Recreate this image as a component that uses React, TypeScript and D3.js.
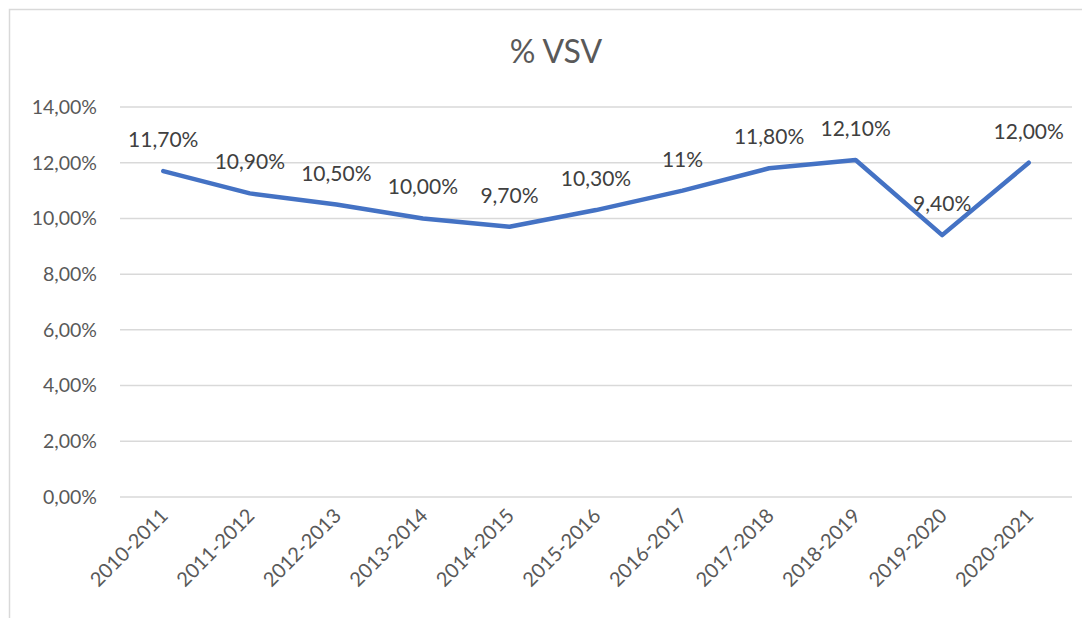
import React, { useEffect, useRef } from 'react';
import * as d3 from 'd3';

const categories = ['2010-2011', '2011-2012', '2012-2013', '2013-2014', '2014-2015', '2015-2016', '2016-2017', '2017-2018', '2018-2019', '2019-2020', '2020-2021'];
const values = [11.7, 10.9, 10.5, 10.0, 9.7, 10.3, 11.0, 11.8, 12.1, 9.4, 12.0];
const valueLabels = ['11,70%', '10,90%', '10,50%', '10,00%', '9,70%', '10,30%', '11%', '11,80%', '12,10%', '9,40%', '12,00%'];
const yTicks = [0, 2, 4, 6, 8, 10, 12, 14];

const font = 'Lato, "Open Sans", sans-serif';
const textColor = '#595959';

const App: React.FC = () => {
  const svgRef = useRef<SVGSVGElement>(null);

  useEffect(() => {
    if (!svgRef.current) return;
    const width = 1082;
    const height = 610;
    // plot area in svg coords (svg sits at 8,8 on the page)
    const left = 112, right = 1064, top = 99, bottom = 489;

    const svg = d3.select(svgRef.current).attr('width', width).attr('height', height);
    svg.selectAll('*').remove();

    svg.append('rect')
      .attr('x', 1.5).attr('y', 1.5)
      .attr('width', width + 20).attr('height', height + 20)
      .attr('fill', '#fff').attr('stroke', '#d9d9d9').attr('stroke-width', 1.5);

    const x = d3.scaleBand<string>().domain(categories).range([left, right]);
    const y = d3.scaleLinear().domain([0, 14]).range([bottom, top]);

    // title
    svg.append('text')
      .attr('x', (left + right) / 2 - 40).attr('y', 55)
      .attr('text-anchor', 'middle')
      .attr('font-family', font).attr('font-size', 32)
      .attr('fill', textColor)
      .text('% VSV');

    // gridlines
    svg.append('g').selectAll('line')
      .data(yTicks).enter().append('line')
      .attr('x1', left).attr('x2', right)
      .attr('y1', d => y(d)).attr('y2', d => y(d))
      .attr('stroke', '#d9d9d9').attr('stroke-width', 1.5);

    // y labels
    svg.append('g').selectAll('text')
      .data(yTicks).enter().append('text')
      .attr('x', 89).attr('y', d => y(d))
      .attr('dy', '0.35em')
      .attr('text-anchor', 'end')
      .attr('font-family', font).attr('font-size', 19.5)
      .attr('fill', textColor)
      .text(d => d.toFixed(2).replace('.', ',') + '%');

    // x labels
    svg.append('g').selectAll('text')
      .data(categories).enter().append('text')
      .attr('transform', d => `translate(${(x(d) ?? 0) + x.bandwidth() / 2 + 6},${bottom + 20}) rotate(-45)`)
      .attr('text-anchor', 'end')
      .attr('font-family', font).attr('font-size', 20)
      .attr('fill', textColor)
      .text(d => d);

    const cx = (i: number) => (x(categories[i]) ?? 0) + x.bandwidth() / 2;

    const line = d3.line<number>()
      .x((_, i) => cx(i))
      .y(d => y(d));

    svg.append('path')
      .datum(values)
      .attr('d', line)
      .attr('fill', 'none')
      .attr('stroke', '#4472C4')
      .attr('stroke-width', 4.5)
      .attr('stroke-linejoin', 'round')
      .attr('stroke-linecap', 'round');

    svg.append('g').selectAll('text')
      .data(values).enter().append('text')
      .attr('x', (_, i) => cx(i))
      .attr('y', d => y(d) - 24)
      .attr('text-anchor', 'middle')
      .attr('font-family', font).attr('font-size', 21)
      .attr('fill', '#404040')
      .text((_, i) => valueLabels[i]);
  }, []);

  return <svg ref={svgRef} style={{ display: 'block' }}></svg>;
};

export default App;
